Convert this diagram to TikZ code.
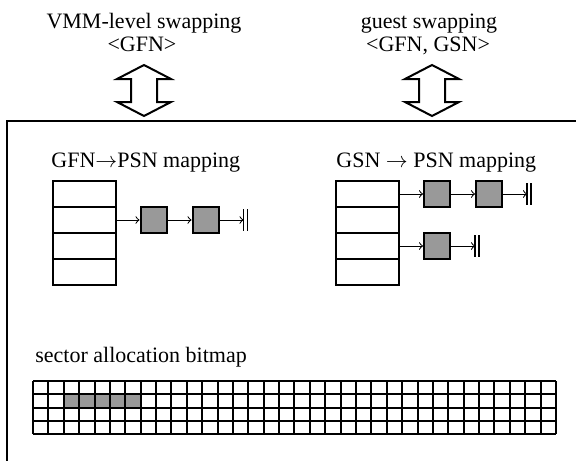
\documentclass[tikz,border=0pt]{standalone}
\usepackage{fontspec}
\setmainfont{Liberation Serif}
\usetikzlibrary{positioning}

\begin{document}
\begin{tikzpicture}[x=0.5pt, y=-0.5pt, >=to, node distance = 12pt, slot/.style ={draw, line width=1pt, minimum width=31.5pt, minimum height=13pt, inner sep=0pt, outer sep=0pt}, blk/.style={draw, line width=1pt, fill=gray!80, minimum size=13pt, inner sep=0pt}, link/.style={->, line width=0.5pt}, lbl/.style={inner sep=0pt, font=\fontsize{11}{12}\selectfont}]
	\useasboundingbox (0,0) rectangle (576,460);
	\node[lbl, anchor=base] (vmmtxt) at (144,29) {VMM-level swapping};
	\node[lbl, anchor=base] (vmmkey) at (142,52) {<GFN>};
	\node[lbl, anchor=base] (gsttxt) at (429,29) {guest swapping};
	\node[lbl, anchor=base] (gstkey) at (428,52) {<GFN, GSN>};
	\foreach \cx in {144,432}
	\draw[line width=1pt] (\cx,65) -- (\cx+27,79) -- (\cx+13,79) -- (\cx+13,102) -- (\cx+27,102) -- (\cx,116) -- (\cx-27,102) -- (\cx-13,102) -- (\cx-13,79) -- (\cx-27,79) -- cycle;
	\draw[line width=1pt] (580,121) -- (7,121) -- (7,464);
	% GFN -> PSN
	\node[lbl, anchor=base west] (gfnhead) at (51,167) {GFN$\rightarrow$PSN mapping};
	\node[slot] (gfn1) at (84,194) {};
	\node[slot] (gfn2) [below=0pt of gfn1] {};
	\node[slot] (gfn3) [below=0pt of gfn2] {};
	\node[slot] (gfn4) [below=0pt of gfn3] {};
	\node[blk] (gfnb1) [right=of gfn2] {};
	\node[blk] (gfnb2) [right=of gfnb1] {};
	\coordinate[right=of gfnb2] (gfnnil);
	\path (gfn2) edge[link] (gfnb1)
	(gfnb1) edge[link] (gfnb2)
	(gfnb2) edge[link] (gfnnil);
	% GSN -> PSN
	\node[lbl, anchor=base west] (gsnhead) at (336,167) {GSN $\rightarrow$ PSN mapping};
	\node[slot] (gsn1) at (367.5,194) {};
	\node[slot] (gsn2) [below=0pt of gsn1] {};
	\node[slot] (gsn3) [below=0pt of gsn2] {};
	\node[slot] (gsn4) [below=0pt of gsn3] {};
	\node[blk] (gsnb1) [right=of gsn1] {};
	\node[blk] (gsnb2) [right=of gsnb1] {};
	\coordinate[right=of gsnb2] (gsnnil1);
	\node[blk] (gsnb3) [right=of gsn3] {};
	\coordinate[right=of gsnb3] (gsnnil2);
	\path (gsn1) edge[link] (gsnb1)
	(gsnb1) edge[link] (gsnb2)
	(gsnb2) edge[link] (gsnnil1)
	(gsn3) edge[link] (gsnb3)
	(gsnb3) edge[link] (gsnnil2);
	\foreach \c in {gfnnil,gsnnil1,gsnnil2}
	\draw[line width=0.6pt] ([yshift=5.5pt]\c) -- ([yshift=-5.5pt]\c) ([shift={(2pt,5.5pt)}]\c) -- ([shift={(2pt,-5.5pt)}]\c);
	% bitmap
	\node[lbl, anchor=base west] (bmphead) at (35,362) {sector allocation bitmap};
	\fill[gray!80] (33+2*15.38,394.25) rectangle (33+7*15.38,407.5);
	\foreach \i in {0,...,34}
	\draw[line width=1pt] (33+\i*15.38,381) -- (33+\i*15.38,434);
	\foreach \j in {0,...,4}
	\draw[line width=1pt] (33,381+\j*13.25) -- (556,381+\j*13.25);
\end{tikzpicture}
\end{document}
